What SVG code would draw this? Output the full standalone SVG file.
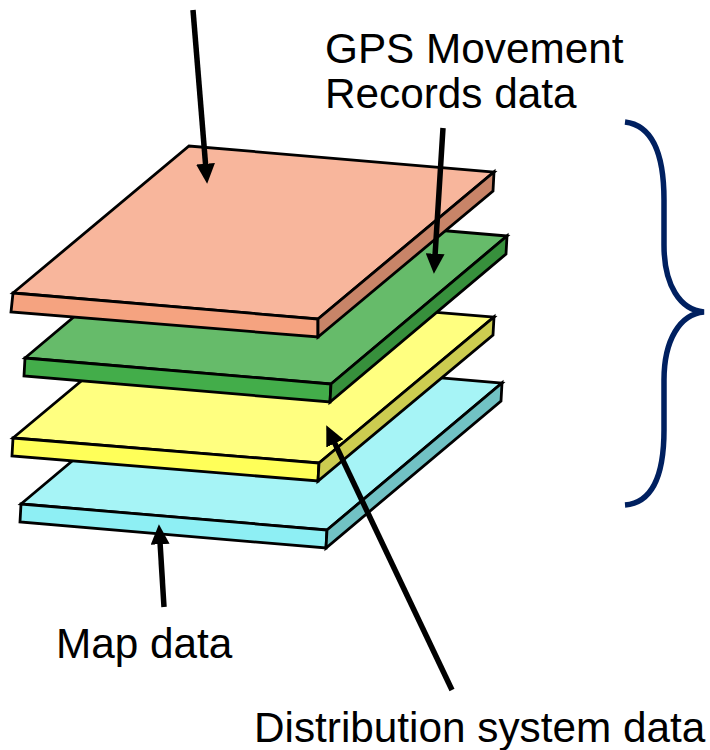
<svg xmlns="http://www.w3.org/2000/svg" width="710" height="750" viewBox="0 0 710 750">
  <defs>
    <style>
      .edge { stroke: #000; stroke-width: 2.8; stroke-linejoin: miter; }
      .conn { stroke: #000; stroke-width: 5.5; fill: none; }
      .lbl { font-family: "Liberation Sans", Arial, sans-serif; font-size: 42.3px; fill: #000; }
      .brace { stroke: #002060; stroke-width: 5.5; fill: none; }
    </style>
    <marker id="ah" markerUnits="userSpaceOnUse" markerWidth="20" markerHeight="19" refX="2" refY="8.5" orient="auto" viewBox="0 0 18 17">
      <path d="M0,0 L18,8.5 L0,17 z" fill="#000"/>
    </marker>
  </defs>

  <g id="layer-map">
    <polygon class="edge" fill="#A6F4F6" points="21,504 196,357 502,383 327,530"/>
    <polygon class="edge" fill="#8EEFF4" points="21,504 327,530 326,548 20,522"/>
    <polygon class="edge" fill="#71C2C4" points="327,530 502,383 501,401 326,548"/>
  </g>

  <g id="layer-distribution">
    <polygon class="edge" fill="#FFFF80" points="13,438 188,292 494,317 319,463"/>
    <polygon class="edge" fill="#FFFF59" points="13,438 319,463 318,481 12,456"/>
    <polygon class="edge" fill="#CCCC50" points="319,463 494,317 493,335 318,481"/>
  </g>

  <g id="layer-gps">
    <polygon class="edge" fill="#66BB6A" points="25,358 201,210 507,236 331,384"/>
    <polygon class="edge" fill="#43AD4A" points="25,358 331,384 330,402 24,376"/>
    <polygon class="edge" fill="#37903C" points="331,384 507,236 506,254 330,402"/>
  </g>

  <g id="layer-top">
    <polygon class="edge" fill="#F8B69C" points="13,293 189,146 494,172 318,319"/>
    <polygon class="edge" fill="#F5A380" points="13,293 318,319 318,337 11,312"/>
    <polygon class="edge" fill="#C88468" points="318,319 494,172 493,191 318,337"/>
  </g>

  <g id="connectors">
    <line class="conn" x1="193" y1="10" x2="205.7" y2="166" marker-end="url(#ah)"/>
    <line class="conn" x1="443" y1="128" x2="435" y2="256" marker-end="url(#ah)"/>
    <line class="conn" x1="452" y1="690" x2="333.9" y2="441.4" marker-end="url(#ah)"/>
    <line class="conn" x1="164" y1="607" x2="160" y2="542" marker-end="url(#ah)"/>
  </g>

  <g id="brace">
    <path class="brace" d="M625,122 C650,125 664,150 664,200 L664,245 C664,285 680,310 704,312 C680,314 664,340 664,380 L664,430 C664,480 650,503 625,505"/>
  </g>

  <g id="labels">
    <text class="lbl" x="325" y="63">GPS Movement</text>
    <text class="lbl" x="325" y="108">Records data</text>
    <text class="lbl" x="56" y="658">Map data</text>
    <text class="lbl" x="254" y="742">Distribution system data</text>
  </g>
</svg>
